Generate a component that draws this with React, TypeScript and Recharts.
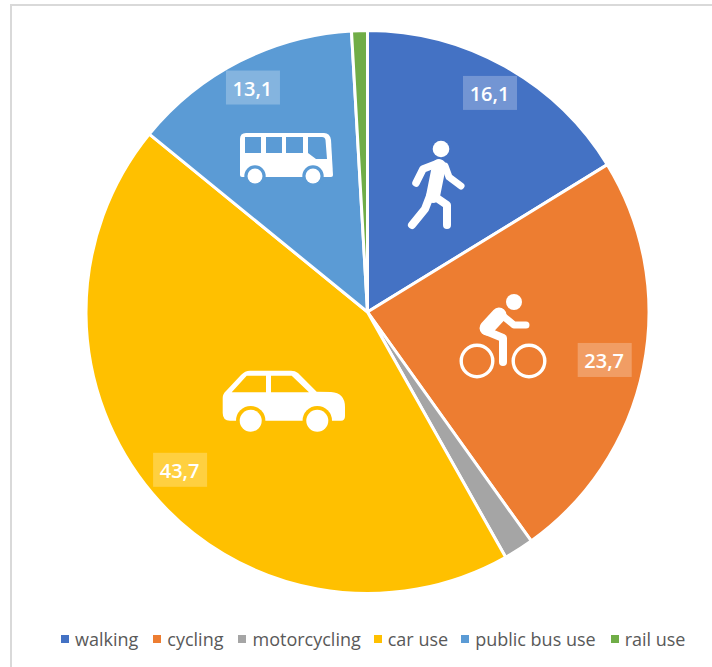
import React from "react";
import { PieChart, Pie, Cell, Legend } from "recharts";

const categories = ["walking", "cycling", "motorcycling", "car use", "public bus use", "rail use"];
const shares = [16.1, 23.7, 1.7, 43.7, 13.1, 0.9];
const labelled = [true, true, false, true, true, false];
const colors = ["#4472C4", "#ED7D31", "#A5A5A5", "#FFC000", "#5B9BD5", "#70AD47"];
const labelRadii = [251, 242, 0, 245, 252, 0];
const legendGaps = [15, 15, 13, 13, 15, 0];

const rows = categories.map((name, i) => ({ name, value: shares[i] }));
const FONT = "'Open Sans', sans-serif";
const W = "#FFFFFF";

function WalkIcon() {
  return (
    <g>
      <circle cx={441} cy={149} r={8.3} fill={W} />
      <g fill="none" stroke={W} strokeLinecap="round" strokeLinejoin="round">
        <path d="M436 164 L423 169 L416 183" strokeWidth={7.5} />
        <path d="M445 166 L449 177 L461 186" strokeWidth={7} />
        <path d="M439 166 L433 196" strokeWidth={14} />
        <path d="M430 196 L425 209 L412 225" strokeWidth={8} />
        <path d="M431 194 L447 205 L447 225" strokeWidth={8} />
      </g>
    </g>
  );
}

function BikeIcon() {
  return (
    <g>
      <circle cx={514} cy={302} r={8} fill={W} />
      <circle cx={477} cy={361} r={15.8} fill="none" stroke={W} strokeWidth={3.4} />
      <circle cx={529} cy={361} r={15.8} fill="none" stroke={W} strokeWidth={3.4} />
      <g fill="none" stroke={W} strokeLinecap="round" strokeLinejoin="round">
        <path d="M499 315 L487 328" strokeWidth={15} />
        <path d="M503 316 L514 325 L526 325" strokeWidth={7} />
        <path d="M486 331 L503 338 L503 362" strokeWidth={8} />
      </g>
    </g>
  );
}

function CarIcon() {
  return (
    <g>
      <path
        d="M222.7 398 Q222.7 394 226 391 L241 375 Q245 370.7 250 370.7 L291 370.7 Q295 370.7 298 373 L316.7 391.7 L331 392 Q345 393 345 407 L345 416 Q345 420.7 341 420.7 L230 420.7 Q222.7 420.7 222.7 413 Z"
        fill={W}
      />
      <path d="M231.7 392.3 L246.7 375.7 L266 375.7 L266 392.3 Z M271 375.7 L291.7 375.7 L309 392.3 L271 392.3 Z" fill={colors[3]} />
      <circle cx={250.7} cy={420.7} r={14.7} fill={colors[3]} />
      <circle cx={317.3} cy={420.7} r={14.7} fill={colors[3]} />
      <circle cx={250.7} cy={420.7} r={11} fill={W} />
      <circle cx={317.3} cy={420.7} r={11} fill={W} />
    </g>
  );
}

function BusIcon() {
  return (
    <g>
      <path d="M240 139 Q240 133 246 133 L324 133 Q330 133 331 140 L333 175 Q333 177 331 177 L242 177 Q240 177 240 175 Z" fill={W} />
      <path d="M245 137 H261 V153 H245 Z M266 137 H282 V153 H266 Z M286 137 H303 V153 H286 Z M308 137 H322 Q325 137 325.5 140 L327 159 H316 L308 153 Z" fill={colors[4]} />
      <circle cx={255} cy={176} r={10.7} fill={colors[4]} />
      <circle cx={313} cy={176} r={10.7} fill={colors[4]} />
      <circle cx={255} cy={176} r={7.5} fill={W} />
      <circle cx={313} cy={176} r={7.5} fill={W} />
    </g>
  );
}

const icons: Record<number, React.ReactNode> = { 0: <WalkIcon />, 1: <BikeIcon />, 3: <CarIcon />, 4: <BusIcon /> };

function renderLabel(p: any) {
  const i = p.index;
  if (!labelled[i]) return null;
  const a = (-p.midAngle * Math.PI) / 180;
  const x = p.cx + labelRadii[i] * Math.cos(a);
  const y = p.cy + labelRadii[i] * Math.sin(a);
  return (
    <g>
      {icons[i]}
      <rect x={x - 27} y={y - 17} width={54} height={34} fill={W} fillOpacity={0.25} />
      <text x={x - 0.5} y={y + 0.5} textAnchor="middle" dominantBaseline="central" fill={W} fontFamily={FONT} fontWeight={600} fontSize={20}>
        {String(shares[i]).replace(".", ",")}
      </text>
    </g>
  );
}

function LegendBox() {
  return (
    <div style={{ display: "flex", alignItems: "center", paddingLeft: 61, fontFamily: FONT, fontSize: 18, color: "#595959", lineHeight: "22px", whiteSpace: "nowrap" }}>
      {categories.map((c, i) => (
        <span key={c} style={{ display: "inline-flex", alignItems: "center", marginRight: legendGaps[i] }}>
          <span style={{ width: 8, height: 8, background: colors[i], marginRight: 6, display: "inline-block" }} />
          <span>{c}</span>
        </span>
      ))}
    </div>
  );
}

export default function App() {
  return (
    <div style={{ position: "absolute", left: 0, top: 0, width: 712, height: 667, background: "#fff", overflow: "hidden" }}>
      <div style={{ position: "absolute", left: 10, top: 4, width: 702, height: 663, borderLeft: "2px solid #D9D9D9", borderTop: "2px solid #D9D9D9", boxSizing: "border-box" }} />
      <PieChart width={712} height={667} margin={{ top: 0, right: 0, bottom: 0, left: 0 }} style={{ position: "absolute", left: 0, top: 0 }}>
        <Pie
          data={rows}
          dataKey="value"
          nameKey="name"
          cx={367.5}
          cy={312}
          outerRadius={281.5}
          startAngle={90}
          endAngle={-270}
          stroke="#FFFFFF"
          strokeWidth={3}
          label={renderLabel}
          labelLine={false}
          isAnimationActive={false}
        >
          {rows.map((r, i) => (
            <Cell key={r.name} fill={colors[i]} />
          ))}
        </Pie>
        <Legend content={<LegendBox />} wrapperStyle={{ position: "absolute", left: 0, top: 628, width: 712 }} />
      </PieChart>
    </div>
  );
}
